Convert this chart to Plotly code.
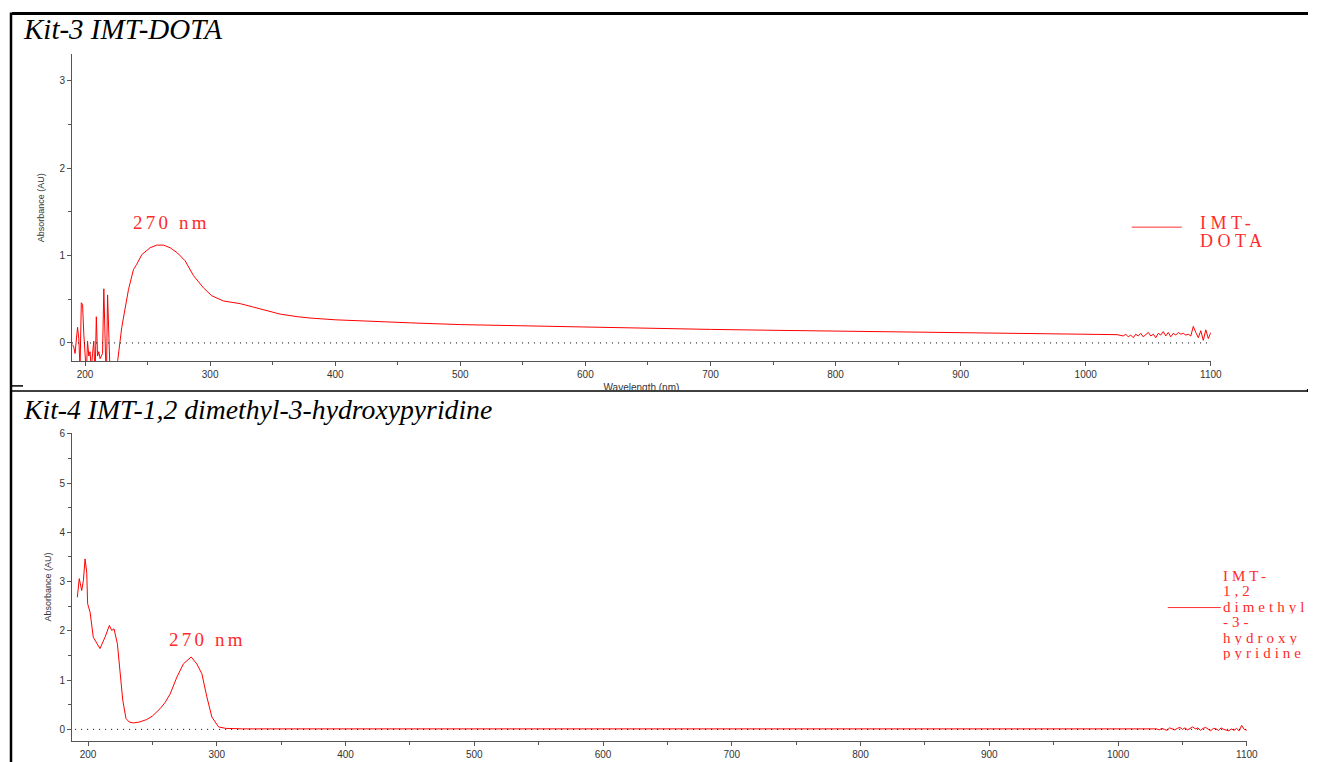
import plotly.graph_objects as go

W, H = 1319, 762

# ---------------- data ----------------
panel_titles = ["Kit-3 IMT-DOTA", "Kit-4 IMT-1,2 dimethyl-3-hydroxypyridine"]
legend_top_lines = ["IMT-", "DOTA"]
legend_bottom_lines = ["IMT-", "1,2", "dimethyl", "-3-", "hydroxy", "pyridine"]
peak_label = "270 nm"
x_title = "Wavelength (nm)"
y_title = "Absorbance (AU)"

x_ticks = [200, 300, 400, 500, 600, 700, 800, 900, 1000, 1100]
x_minor = [250, 350, 450, 550, 650, 750, 850, 950, 1050]
y_ticks_top = [0, 1, 2, 3]
y_minor_top = [0.5, 1.5, 2.5]
y_ticks_bottom = [0, 1, 2, 3, 4, 5, 6]
y_minor_bottom = [0.5, 1.5, 2.5, 3.5, 4.5, 5.5]

# Kit-3 IMT-DOTA spectrum
dota_noise_nm = list(range(190, 225))
dota_noise_abs = [-0.02, -0.05, -0.12, 0.0, 0.18, 0.05, -0.3, 0.46, 0.44, 0.1,
                  -0.1, -0.35, 0.02, -0.15, -0.1, -0.3, -0.12, 0.02, -0.4, 0.30,
                  -0.15, -0.1, -0.18, -0.14, -0.12, 0.62, -0.1, -0.5, 0.55, -0.2,
                  -0.4, -0.8, -0.9, -1.0, -0.9]
dota_main_nm = [225, 226.1, 229.3, 232.8, 234.7, 238.7, 241.3, 245.3, 252, 257.3,
                262.7, 268, 273.9, 280, 286.7, 294.7, 301.3, 310.7, 324, 334.7,
                345.3, 356, 370, 380, 400, 430, 460, 500, 550, 600,
                650, 700, 750, 800, 850, 880, 885, 890, 900, 920,
                935, 950, 970, 985, 1000, 1010, 1015, 1020, 1025]
dota_main_abs = [-0.6, -0.2, 0.175, 0.44, 0.61, 0.84, 0.90, 1.01, 1.09, 1.12,
                 1.12, 1.09, 1.03, 0.94, 0.77, 0.63, 0.54, 0.48, 0.45, 0.41,
                 0.37, 0.33, 0.30, 0.285, 0.265, 0.245, 0.23, 0.21, 0.195, 0.18,
                 0.17, 0.155, 0.145, 0.135, 0.125, 0.12, 0.122, 0.118, 0.115, 0.11,
                 0.111, 0.105, 0.10, 0.1, 0.095, 0.093, 0.097, 0.09, 0.095]
dota_tail_nm = list(range(1030, 1101, 2))
dota_tail_abs = [0.08, 0.10, 0.07, 0.09, 0.06, 0.10, 0.08, 0.11, 0.07, 0.09,
                 0.12, 0.08, 0.10, 0.06, 0.11, 0.09, 0.13, 0.08, 0.12, 0.07,
                 0.11, 0.09, 0.12, 0.10, 0.11, 0.09, 0.10, 0.08, 0.19, 0.12,
                 0.06, 0.14, 0.03, 0.15, 0.05, 0.12]

# Kit-4 IMT-1,2 dimethyl-3-hydroxypyridine spectrum
hp_main_nm = [191.7, 193.2, 195.1, 196.4, 197.7, 199.0, 199.7, 201.6, 204.1, 206.5,
              209.3, 213.2, 216.6, 218.4, 220.2, 222.8, 224.9, 227.0, 229.5, 232,
              235.2, 240, 245.6, 250, 256, 260, 263.8, 269, 274.1, 277,
              280.1, 284.5, 288.4, 292.3, 296.2, 301.4, 307, 320, 330, 360,
              400, 450, 500, 550, 600, 650, 700, 750, 800, 850,
              900, 950, 1000, 1010, 1020]
hp_main_abs = [2.68, 3.06, 2.82, 3.02, 3.46, 3.19, 2.55, 2.38, 1.87, 1.75,
               1.64, 1.87, 2.11, 2.01, 2.04, 1.74, 1.13, 0.59, 0.22, 0.15,
               0.13, 0.15, 0.20, 0.27, 0.42, 0.55, 0.72, 1.06, 1.33, 1.40,
               1.47, 1.33, 1.13, 0.66, 0.25, 0.05, 0.02, 0.01, 0.01, 0.005,
               0.0, 0.005, 0.0, 0.003, 0.0, 0.002, 0.0, 0.004, 0.0, 0.003,
               -0.002, 0.002, 0.0, 0.01, -0.005]
hp_tail_nm = list(range(1030, 1101, 2))
hp_tail_abs = [0.01, -0.01, 0.02, 0.0, -0.02, 0.03, 0.01, -0.01, 0.02, 0.04,
               0.0, 0.03, -0.01, 0.02, 0.05, 0.01, 0.03, -0.02, 0.02, 0.04,
               0.0, -0.03, 0.02, 0.01, -0.02, 0.03, 0.0, -0.01, -0.03, 0.01,
               -0.02, 0.02, -0.03, 0.08, 0.0, -0.02]

dota_nm = dota_noise_nm + dota_main_nm + dota_tail_nm
dota_abs = dota_noise_abs + dota_main_abs + dota_tail_abs
hp_nm = hp_main_nm + hp_tail_nm
hp_abs = hp_main_abs + hp_tail_abs

# ---------------- helpers (target pixel -> paper) ----------------
SX, SY, OY = 0.991, 0.995, 3.5

def px(x):
    return (x / SX) / W

def py(y):
    return 1 - ((y - OY) / SY) / H

RED = "#ff0000"
TXT_RED = "#ff2a2a"
AX = "#555555"
TICKFONT = dict(family="Liberation Sans", size=10, color="#333333")

fig = go.Figure()

fig.add_trace(go.Scatter(x=dota_nm, y=dota_abs, mode="lines",
                         line=dict(color=RED, width=1), xaxis="x", yaxis="y",
                         name="IMT-DOTA", showlegend=False, hoverinfo="x+y"))
fig.add_trace(go.Scatter(x=hp_nm, y=hp_abs, mode="lines",
                         line=dict(color=RED, width=1), xaxis="x2", yaxis="y2",
                         name="IMT-1,2 dimethyl-3-hydroxypyridine",
                         showlegend=False, hoverinfo="x+y"))
# clipped x-axis title of the upper panel (cut by the separator line)
fig.add_trace(go.Scatter(x=[px(641)], y=[0.1], mode="text", text=[x_title],
                         textposition="middle center", cliponaxis=True,
                         textfont=dict(family="Liberation Sans", size=10, color="#333333"),
                         xaxis="x3", yaxis="y3", showlegend=False, hoverinfo="skip"))

def xaxis_cfg(domain, rng, anchor):
    return dict(domain=domain, range=rng, anchor=anchor, showline=True,
                linecolor=AX, linewidth=1, ticks="outside", ticklen=4,
                tickcolor=AX, tickmode="array", tickvals=x_ticks,
                minor=dict(tickvals=x_minor, ticks="outside", ticklen=3, tickcolor=AX),
                showgrid=False, zeroline=False, tickfont=TICKFONT)

def yaxis_cfg(domain, rng, anchor, ticks, minor):
    return dict(domain=domain, range=rng, anchor=anchor, showline=True,
                linecolor=AX, linewidth=1, ticks="outside", ticklen=4,
                tickcolor=AX, tickmode="array", tickvals=ticks,
                minor=dict(tickvals=minor, ticks="outside", ticklen=3, tickcolor=AX),
                showgrid=False, zeroline=False, tickfont=TICKFONT)

fig.update_layout(
    width=W, height=H, margin=dict(l=0, r=0, t=0, b=0),
    paper_bgcolor="white", plot_bgcolor="white", showlegend=False,
    xaxis=xaxis_cfg([px(72), px(1210)], [189.6, 1100], "y"),
    yaxis=yaxis_cfg([py(360), py(53)], [-0.206, 3.303], "x", y_ticks_top, y_minor_top),
    xaxis2=xaxis_cfg([px(72), px(1246)], [187.6, 1100], "y2"),
    yaxis2=yaxis_cfg([py(741), py(432)], [-0.243, 6.02], "x2", y_ticks_bottom, y_minor_bottom),
    xaxis3=dict(domain=[0, 1], range=[0, 1], anchor="y3", visible=False, fixedrange=True),
    yaxis3=dict(domain=[py(389), py(376)], range=[0, 1], anchor="x3", visible=False, fixedrange=True),
)

shapes = []
# dotted zero lines
shapes.append(dict(type="line", xref="x", yref="y", x0=189.6, x1=1100, y0=0, y1=0,
                   line=dict(color="black", width=1, dash="1px,5px")))
shapes.append(dict(type="line", xref="x2", yref="y2", x0=190, x1=1100, y0=0, y1=0,
                   line=dict(color="black", width=1, dash="1px,5px")))
# frame lines
def pline(x0, y0, x1, y1, w):
    return dict(type="line", xref="paper", yref="paper", x0=px(x0), y0=py(y0),
                x1=min(px(x1), 1.0), y1=py(y1), line=dict(color="black", width=w))
shapes += [pline(12, 12, 1319, 12, 3), pline(11, 11, 11, 764, 2.5),
           pline(12, 390, 1319, 390, 1.5), pline(1306, 389.5, 1319, 389.5, 3),
           pline(12, 385, 23, 385, 1.5)]
# legend samples
shapes.append(dict(type="line", xref="paper", yref="paper", x0=px(1131), x1=px(1181),
                   y0=py(226), y1=py(226), line=dict(color="#ff3030", width=1)))
shapes.append(dict(type="line", xref="paper", yref="paper", x0=px(1167), x1=px(1220),
                   y0=py(607), y1=py(607), line=dict(color="#ff3030", width=1)))
fig.update_layout(shapes=shapes)

ann = []
def add_text(text, x, y, font, xanchor="left", yanchor="middle", angle=0, height=None):
    a = dict(text=text, x=px(x), y=py(y), xref="paper", yref="paper",
             xanchor=xanchor, yanchor=yanchor, showarrow=False, font=font,
             textangle=angle, borderpad=0)
    if height is not None:
        a["height"] = height
    ann.append(a)

add_text(panel_titles[0], 22, 28,
         dict(family="Liberation Serif", size=29, color="black", style="italic"))
add_text(panel_titles[1], 22, 409,
         dict(family="Liberation Serif", size=27.7, color="black", style="italic"))

PEAK_FONT = dict(family="Liberation Serif", size=19, color=TXT_RED)
sp = '<span style="letter-spacing:3.2px">%s</span>'
add_text(sp % peak_label, 171, 221, PEAK_FONT, xanchor="center")
add_text(sp % peak_label, 207, 639, PEAK_FONT, xanchor="center")

YT_FONT = dict(family="Liberation Sans", size=9, color="#333333")
add_text(y_title, 41, 207, YT_FONT, xanchor="center", angle=-90)
add_text(y_title, 48, 587, YT_FONT, xanchor="center", angle=-90)

LEG1 = dict(family="Liberation Serif", size=18, color=TXT_RED)
for i, t in enumerate(legend_top_lines):
    add_text('<span style="letter-spacing:4.5px">%s</span>' % t, 1198, 221 + 18 * i,
             LEG1, height=17)
LEG2 = dict(family="Liberation Serif", size=15, color=TXT_RED)
for i, t in enumerate(legend_bottom_lines):
    add_text('<span style="letter-spacing:4px">%s</span>' % t, 1221, 575 + 15.4 * i,
             LEG2, height=15)

fig.update_layout(annotations=ann)

fig.write_html("out.html")
